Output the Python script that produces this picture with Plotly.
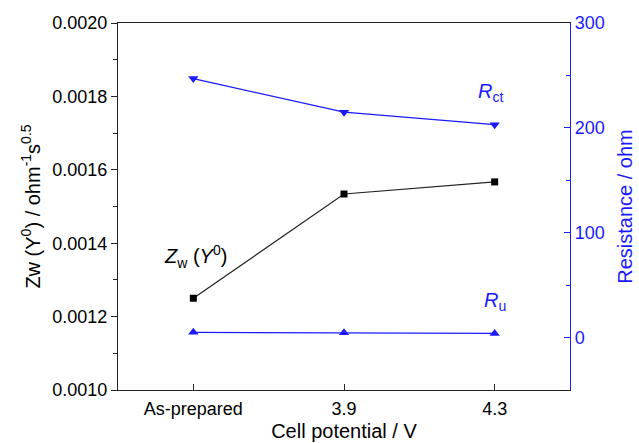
import plotly.graph_objects as go

categories = ["As-prepared", "3.9", "4.3"]
zw_values = [0.00125, 0.001534, 0.001567]
rct_values = [247, 215, 203]
ru_values = [5.0, 4.6, 4.0]

BLUE = "#1a1aff"
DARK = "#222222"
FONT = "Liberation Sans, Arial, sans-serif"

fig = go.Figure()
fig.add_trace(go.Scatter(
    x=categories, y=zw_values, mode="lines+markers",
    line=dict(color=DARK, width=1.2),
    marker=dict(symbol="square", size=7, color="black"),
    yaxis="y", showlegend=False))
fig.add_trace(go.Scatter(
    x=categories, y=rct_values, mode="lines+markers",
    line=dict(color=BLUE, width=1.2),
    marker=dict(symbol="triangle-down", size=9, color=BLUE),
    yaxis="y2", showlegend=False))
fig.add_trace(go.Scatter(
    x=categories, y=ru_values, mode="lines+markers",
    line=dict(color=BLUE, width=1.2),
    marker=dict(symbol="triangle-up", size=9, color=BLUE),
    yaxis="y2", showlegend=False))

fig.update_layout(
    width=639, height=443,
    margin=dict(l=118, r=69, t=23, b=53, autoexpand=False),
    paper_bgcolor="white", plot_bgcolor="white",
    font=dict(family=FONT, size=18, color="black"),
    xaxis=dict(
        type="category", range=[-0.5, 2.5], automargin=False,
        showline=True, linecolor=DARK, linewidth=1.3, mirror=True,
        ticks="inside", ticklen=6, tickcolor=DARK,
        showgrid=False, zeroline=False,
        tickfont=dict(size=18), ticklabelstandoff=2,
        title=dict(text="Cell potential / V", font=dict(size=20), standoff=6),
    ),
    yaxis=dict(
        range=[0.001, 0.002], dtick=0.0002, tickformat=".4f", automargin=False,
        showline=True, linecolor=DARK, linewidth=1.3,
        ticks="outside", ticklen=6, tickcolor=DARK,
        minor=dict(dtick=0.0001, ticks="outside", ticklen=4, tickcolor=DARK),
        showgrid=False, zeroline=False,
        tickfont=dict(size=18),
        title=dict(text="Zw (Y<sup>0</sup>) / ohm<sup>-1</sup>s<sup>0.5</sup>",
                   font=dict(size=20), standoff=6),
    ),
    yaxis2=dict(
        overlaying="y", side="right", range=[-50, 300], dtick=100, automargin=False,
        showline=True, linecolor=BLUE, linewidth=1.3,
        ticks="inside", ticklen=6, tickcolor=BLUE,
        minor=dict(dtick=50, ticks="inside", ticklen=4, tickcolor=BLUE),
        showgrid=False, zeroline=False,
        tickfont=dict(size=18, color=BLUE),
        title=dict(text="Resistance / ohm", font=dict(size=20, color=BLUE), standoff=14),
    ),
)

fig.add_annotation(x=0, y=0.001363, xref="x", yref="y",
                   text="<i>Z</i><sub>w</sub> (<i>Y</i><sup>0</sup>)",
                   showarrow=False, font=dict(size=20, color="black"),
                   xshift=2)
fig.add_annotation(x=2, y=234, xref="x", yref="y2",
                   text="<i>R</i><sub>ct</sub>",
                   showarrow=False, font=dict(size=20, color=BLUE), xshift=-4)
fig.add_annotation(x=2, y=34, xref="x", yref="y2",
                   text="<i>R</i><sub>u</sub>",
                   showarrow=False, font=dict(size=20, color=BLUE), xshift=0)

fig.write_html("out.html",
               config={"displayModeBar": False},
               post_script="document.body.style.margin='0';document.body.style.overflow='hidden';")
